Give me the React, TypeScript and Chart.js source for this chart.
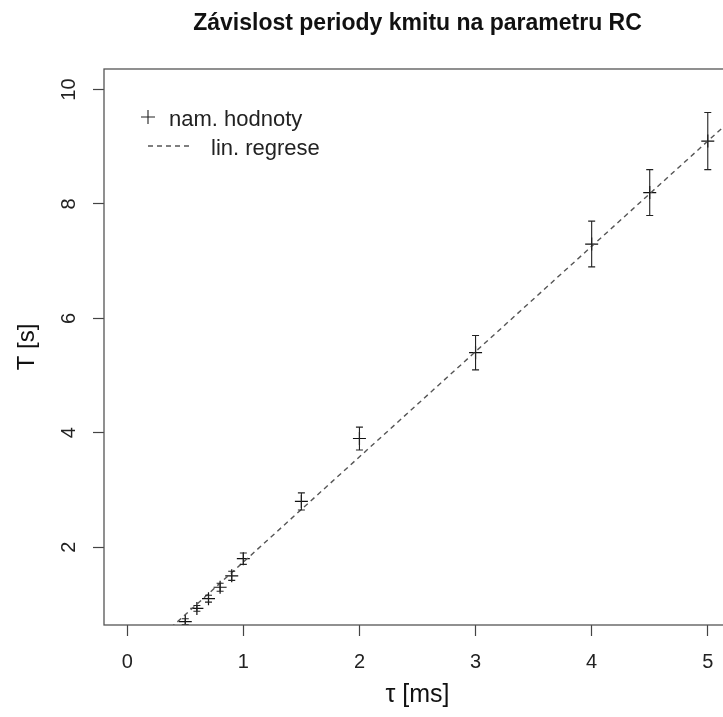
import React, { useEffect, useRef } from 'react';
import { Chart, registerables } from 'chart.js';

Chart.register(...registerables);

// Measured values
const TAU_MS = [0.5, 0.6, 0.7, 0.8, 0.9, 1.0, 1.5, 2, 3, 4, 4.5, 5];
const PERIOD_S = [0.7, 0.93, 1.1, 1.3, 1.5, 1.8, 2.8, 3.9, 5.4, 7.3, 8.2, 9.1];
const PERIOD_ERR = [0.05, 0.05, 0.06, 0.07, 0.08, 0.1, 0.15, 0.2, 0.3, 0.4, 0.4, 0.5];

// Linear regression T = a*tau + b
const FIT_SLOPE = 1.84;
const FIT_INTERCEPT = -0.1;

// Axis limits (like R xlim / ylim) and ticks
const X_LIM = [0, 5];
const Y_LIM = [1, 10];
const X_TICKS = [0, 1, 2, 3, 4, 5];
const Y_TICKS = [2, 4, 6, 8, 10];

const TITLE = 'Závislost periody kmitu na parametru RC';
const X_LABEL = 'τ [ms]';
const Y_LABEL = 'T [s]';
const LEGEND_POINTS = 'nam. hodnoty';
const LEGEND_LINE = 'lin. regrese';

const FONT = "'Liberation Sans', Arial, Helvetica, sans-serif";

function extend(lim: number[]) {
  const d = (lim[1] - lim[0]) * 0.04;
  return [lim[0] - d, lim[1] + d];
}

export default function App() {
  const ref = useRef<HTMLCanvasElement | null>(null);

  useEffect(() => {
    if (!ref.current) return;
    const xr = extend(X_LIM);
    const yr = extend(Y_LIM);

    const points = TAU_MS.map((t, i) => ({ x: t, y: PERIOD_S[i] }));
    const fitLine = xr.map((t) => ({ x: t, y: FIT_SLOPE * t + FIT_INTERCEPT }));

    const boxPlugin = {
      id: 'rbox',
      afterDatasetsDraw(chart: any) {
        const { ctx, chartArea: a, scales } = chart;
        const xs = scales.x;
        const ys = scales.y;
        ctx.save();
        // error bars
        ctx.beginPath();
        ctx.rect(a.left, a.top, a.right - a.left, a.bottom - a.top);
        ctx.clip();
        ctx.strokeStyle = '#222';
        ctx.lineWidth = 1.1;
        TAU_MS.forEach((t, i) => {
          const px = xs.getPixelForValue(t);
          const y1 = ys.getPixelForValue(PERIOD_S[i] - PERIOD_ERR[i]);
          const y2 = ys.getPixelForValue(PERIOD_S[i] + PERIOD_ERR[i]);
          ctx.beginPath();
          ctx.moveTo(px, y1);
          ctx.lineTo(px, y2);
          ctx.moveTo(px - 3.5, y1);
          ctx.lineTo(px + 3.5, y1);
          ctx.moveTo(px - 3.5, y2);
          ctx.lineTo(px + 3.5, y2);
          ctx.stroke();
        });
        ctx.restore();

        ctx.save();
        // frame
        ctx.strokeStyle = '#555';
        ctx.lineWidth = 1.3;
        ctx.strokeRect(a.left, a.top, a.right - a.left, a.bottom - a.top);

        // legend
        const lx = a.left + 44;
        const ly1 = a.top + 57;
        const ly2 = a.top + 86;
        ctx.strokeStyle = '#222';
        ctx.lineWidth = 1.1;
        ctx.beginPath();
        ctx.moveTo(lx - 7, ly1 - 9);
        ctx.lineTo(lx + 7, ly1 - 9);
        ctx.moveTo(lx, ly1 - 16);
        ctx.lineTo(lx, ly1 - 2);
        ctx.stroke();
        ctx.strokeStyle = '#555';
        ctx.lineWidth = 1.4;
        ctx.setLineDash([5, 4]);
        ctx.beginPath();
        ctx.moveTo(lx, ly2 - 9);
        ctx.lineTo(lx + 45, ly2 - 9);
        ctx.stroke();
        ctx.setLineDash([]);
        ctx.fillStyle = '#222';
        ctx.font = `22px ${FONT}`;
        ctx.textBaseline = 'alphabetic';
        ctx.textAlign = 'left';
        ctx.fillText(LEGEND_POINTS, a.left + 65, ly1);
        ctx.fillText(LEGEND_LINE, a.left + 107, ly2);
        ctx.restore();
      },
    };

    const chart = new Chart(ref.current, {
      type: 'scatter',
      data: {
        datasets: [
          {
            label: LEGEND_LINE,
            data: fitLine,
            showLine: true,
            borderColor: '#555',
            borderWidth: 1.4,
            borderDash: [5, 4],
            pointRadius: 0,
            fill: false,
          },
          {
            label: LEGEND_POINTS,
            data: points,
            pointStyle: 'cross',
            pointRadius: 6.5,
            borderColor: '#111',
            backgroundColor: '#111',
            pointBorderWidth: 1.2,
            showLine: false,
          },
        ],
      },
      plugins: [boxPlugin],
      options: {
        responsive: false,
        animation: false,
        layout: { padding: { left: 0, right: 29, top: 0, bottom: 0 } },
        plugins: {
          legend: { display: false },
          tooltip: { enabled: false },
          title: {
            display: true,
            text: TITLE,
            fullSize: false,
            color: '#111',
            font: { family: FONT, size: 23, weight: 'bold', lineHeight: 1.2 },
            padding: { top: 10, bottom: 31.4 },
          },
        },
        scales: {
          x: {
            type: 'linear',
            min: xr[0],
            max: xr[1],
            afterBuildTicks: (axis: any) => {
              axis.ticks = X_TICKS.map((v) => ({ value: v }));
            },
            afterFit: (axis: any) => {
              axis.height = 92;
            },
            border: { display: false },
            grid: {
              display: true,
              drawOnChartArea: false,
              drawTicks: true,
              tickLength: 11,
              tickColor: '#444',
              tickWidth: 1.2,
            },
            ticks: {
              color: '#222',
              font: { family: FONT, size: 20 },
              padding: 14,
              maxRotation: 0,
              autoSkip: false,
            },
            title: {
              display: true,
              text: X_LABEL,
              color: '#111',
              font: { family: FONT, size: 25 },
              padding: { top: 7, bottom: 7 },
            },
          },
          y: {
            type: 'linear',
            min: yr[0],
            max: yr[1],
            afterBuildTicks: (axis: any) => {
              axis.ticks = Y_TICKS.map((v) => ({ value: v }));
            },
            afterFit: (axis: any) => {
              axis.width = 104;
            },
            border: { display: false },
            grid: {
              display: true,
              drawOnChartArea: false,
              drawTicks: true,
              tickLength: 11,
              tickColor: '#444',
              tickWidth: 1.2,
            },
            ticks: {
              color: '#222',
              font: { family: FONT, size: 20 },
              padding: 12,
              minRotation: 90,
              maxRotation: 90,
              crossAlign: 'center',
              autoSkip: false,
            },
            title: {
              display: true,
              text: Y_LABEL,
              color: '#111',
              font: { family: FONT, size: 24 },
              padding: { top: 12.6, bottom: 12.6 },
            },
          },
        },
      },
    } as any);

    return () => chart.destroy();
  }, []);

  return (
    <div
      style={{
        position: 'absolute',
        left: 0,
        top: 0,
        width: 723,
        height: 717,
        overflow: 'hidden',
        background: '#fff',
      }}
    >
      <canvas ref={ref} width={760} height={717} style={{ display: 'block', width: 760, height: 717 }} />
    </div>
  );
}
